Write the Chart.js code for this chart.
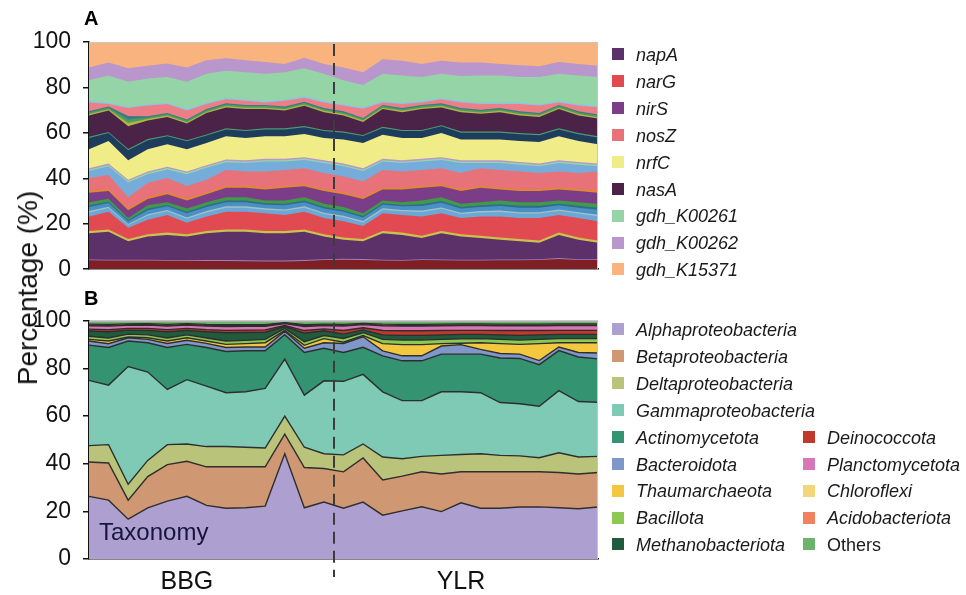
<!DOCTYPE html>
<html><head><meta charset="utf-8">
<script src="https://cdn.jsdelivr.net/npm/chart.js@4.4.1/dist/chart.umd.min.js"></script>
<style>
html,body{margin:0;padding:0;background:#fff}
body{width:966px;height:595px;position:relative;overflow:hidden;font-family:Arial,"Liberation Sans",sans-serif;color:#111}
canvas{position:absolute;left:0}
#ca{top:0}
#cb{top:295px}
.panel{position:absolute;font-weight:bold;font-size:20px;color:#000}
#ytitle{position:absolute;left:28px;top:288px;transform:translate(-50%,-50%) rotate(-90deg);font-size:28px;white-space:nowrap;color:#111}
#tax{position:absolute;left:99px;top:518px;font-size:24px;color:#16163a}
.lg{position:absolute;font-size:18px;font-style:italic;color:#1a1a1a;white-space:nowrap;line-height:20px}
.lg i{display:inline-block;width:12px;height:12px;vertical-align:middle;margin-right:12px;position:relative;top:-2px}
.lg.plain{font-style:normal}
</style>
</head><body>
<canvas id="ca" width="966" height="295"></canvas>
<canvas id="cb" width="966" height="300"></canvas>
<div class="panel" style="left:84px;top:7px">A</div>
<div class="panel" style="left:84px;top:287px">B</div>
<div id="ytitle">Percentage (%)</div>
<div id="tax">Taxonomy</div>
<div id="legA"></div>
<div id="legB"></div>
<script>
// ---------- categories ----------
const samples = ['BBG1','BBG2','BBG3','BBG4','BBG5','BBG6','BBG7','BBG8','BBG9','BBG10','BBG11','BBG12','BBG13',
  'YLR1','YLR2','YLR3','YLR4','YLR5','YLR6','YLR7','YLR8','YLR9','YLR10','YLR11','YLR12','YLR13','YLR14'];
const groupNames = ['BBG','YLR'];
const groupLabelAt = [5, 19];
const bbgCount = 13;
const yTicks = [0, 20, 40, 60, 80, 100];

// ---------- panel A: functional genes (%), bottom to top ----------
const aDarkRed   = [3.9,3.8,3.8,3.8,3.7,3.7,3.6,3.6,3.5,3.4,3.4,3.6,4.0,4.2,4.1,3.8,3.7,4.0,3.9,3.8,3.8,3.9,3.9,4.0,4.5,4.0,4.0];
const aLilac1    = [0.4,0.4,0.4,0.4,0.4,0.4,0.4,0.4,0.4,0.4,0.4,0.4,0.4,0.4,0.4,0.4,0.4,0.4,0.4,0.4,0.4,0.4,0.4,0.4,0.4,0.4,0.4];
const napA       = [11.5,12.3,8.1,10.2,11.0,10.3,11.8,12.5,12.6,12.0,12.0,12.5,10.0,8.4,7.8,11.6,11.0,9.3,11.5,10.2,9.5,8.7,8.0,7.2,10.2,8.6,7.2];
const aOlive1    = [1.0,1.0,1.0,1.0,1.0,1.0,1.0,1.0,1.0,1.0,1.0,1.0,1.0,1.0,1.0,1.0,1.0,1.0,1.0,1.0,1.0,1.0,1.0,1.0,1.0,1.0,1.0];
const narG       = [6.4,7.8,4.9,6.4,7.8,5.0,6.4,7.8,7.8,7.8,7.1,7.8,7.1,7.1,5.7,7.8,7.8,8.5,7.8,7.1,8.5,9.2,9.2,9.9,7.8,8.5,8.5];
const aLightBlue1= [1.8,1.6,1.2,1.8,1.6,1.8,1.8,1.8,1.8,1.6,1.8,1.8,1.8,1.8,1.6,1.6,1.6,2.0,2.0,1.8,1.8,2.0,2.0,2.0,1.8,2.0,2.2];
const aGrey      = [0.6,0.6,0.5,0.6,0.6,0.6,0.6,0.6,0.6,0.6,0.6,0.6,0.6,0.6,0.6,0.6,0.6,0.6,0.6,0.6,0.6,0.6,0.6,0.6,0.6,0.6,0.7];
const aBlue      = [1.8,1.6,1.2,1.8,1.6,1.8,1.8,1.8,1.8,1.6,1.8,1.8,1.8,1.8,1.6,1.6,1.6,2.0,2.0,1.8,1.8,2.0,2.0,2.0,1.8,2.0,2.2];
const aDarkTeal  = [0.7,0.6,0.5,0.7,0.6,0.7,0.7,0.7,0.7,0.6,0.7,0.7,0.7,0.7,0.6,0.6,0.6,0.8,0.8,0.7,0.7,0.8,0.8,0.8,0.7,0.8,0.8];
const aGreen1    = [1.4,1.3,0.9,1.4,1.2,1.4,1.4,1.5,1.5,1.2,1.4,1.5,1.4,1.4,1.2,1.2,1.2,1.6,1.7,1.4,1.4,1.6,1.6,1.6,1.4,1.6,1.8];
const nirS       = [4.2,3.4,3.4,2.8,3.5,3.5,3.5,4.1,4.1,4.9,5.6,4.8,5.6,5.6,6.3,4.9,5.6,5.6,4.8,5.6,6.3,4.9,4.9,4.9,4.9,4.9,4.9];
const aOrange    = [0.8,0.8,0.8,0.8,0.8,0.8,0.8,0.8,0.8,0.8,0.8,0.8,0.8,0.8,0.8,0.8,0.8,0.8,0.8,0.8,0.8,0.8,0.8,0.8,0.8,0.8,0.8];
const nosZ       = [5.6,6.3,5.0,6.3,6.3,5.6,5.6,7.1,6.4,7.1,7.1,7.1,7.1,7.0,7.0,7.8,7.1,7.1,7.1,7.1,7.8,7.8,7.8,7.1,7.1,7.1,8.5];
const aLightBlue2= [3.1,3.8,6.5,3.8,3.8,5.2,5.2,3.4,3.7,4.4,3.7,3.7,4.4,4.5,4.5,3.7,3.7,3.7,3.7,4.4,2.3,3.0,3.0,3.0,3.7,3.7,2.3];
const aMint      = [0.6,0.6,0.6,0.6,0.6,0.6,0.6,0.6,0.6,0.6,0.6,0.6,0.6,0.6,0.6,0.6,0.6,0.6,0.6,0.6,0.6,0.6,0.6,0.6,0.6,0.6,0.6];
const aLilac2    = [0.6,0.6,0.6,0.6,0.6,0.6,0.6,0.6,0.6,0.6,0.6,0.6,0.6,0.6,0.6,0.6,0.6,0.6,0.6,0.6,0.6,0.6,0.6,0.6,0.6,0.6,0.6];
const nrfC       = [8.4,9.9,8.5,9.8,9.9,9.8,9.8,10.2,9.9,9.9,9.9,10.2,9.9,10.6,11.2,10.6,9.9,9.2,10.6,9.2,9.2,9.2,9.2,9.5,10.6,9.2,8.5];
const aNavy      = [5.0,3.5,4.5,4.0,3.5,3.5,3.2,3.0,3.0,3.0,3.0,3.0,3.0,3.0,3.0,3.0,3.0,3.0,3.0,3.0,3.0,3.0,3.0,3.0,3.0,3.0,3.0];
const aTeal1     = [0.5,0.5,0.5,0.5,0.5,0.5,0.5,0.5,0.5,0.5,0.5,0.5,0.5,0.5,0.5,0.5,0.5,0.5,0.5,0.5,0.5,0.5,0.5,0.5,0.5,0.5,0.5];
const nasA       = [9.4,9.4,10.0,8.2,8.0,7.3,9.4,9.2,9.2,8.5,7.8,8.9,7.8,7.1,5.7,7.8,7.8,9.2,7.8,8.5,7.8,8.5,7.8,7.5,8.5,7.8,7.8];
const aOlive2    = [0.6,0.6,1.5,0.6,0.6,0.6,0.6,0.6,0.6,0.6,0.6,0.6,0.6,0.6,0.6,0.6,0.6,0.6,0.6,0.6,0.6,0.6,0.6,0.6,0.6,0.6,0.6];
const aGreen2    = [0.7,0.7,1.5,0.7,0.7,0.7,0.7,0.7,0.7,0.7,0.7,0.7,0.7,0.7,0.7,0.7,0.7,0.7,0.7,0.7,0.7,0.7,0.7,0.7,0.7,0.7,0.7];
const aTeal2     = [0.5,0.5,1.5,0.5,0.5,0.5,0.5,0.5,0.5,0.5,0.5,0.5,0.5,0.5,0.5,0.5,0.5,0.5,0.5,0.5,0.5,0.5,0.5,0.5,0.5,0.5,0.5];
const aPink2     = [3.9,1.1,3.5,4.7,3.9,4.0,2.2,1.8,1.8,1.1,2.5,1.8,2.5,2.5,4.0,1.1,1.8,1.1,1.8,2.5,2.5,1.8,3.2,3.2,1.1,2.5,3.2];
const aSky       = [0.6,0.6,0.6,0.6,0.6,0.6,0.6,0.6,0.6,0.6,0.6,0.6,0.6,0.6,0.6,0.6,0.6,0.6,0.6,0.6,0.6,0.6,0.6,0.6,0.6,0.6,0.6];
const gdhK00261  = [9.2,12.0,11.0,11.3,11.3,12.0,12.7,12.0,12.0,12.0,12.0,12.3,12.0,10.6,9.9,12.0,12.0,10.6,10.6,11.0,12.0,12.0,11.3,12.0,12.0,12.7,12.7];
const gdhK00262  = [5.6,5.7,5.9,5.7,5.9,6.3,6.0,5.4,5.3,5.2,3.6,4.7,4.3,5.6,5.6,6.4,6.4,5.7,5.7,6.0,5.7,5.0,5.2,4.7,5.2,5.0,5.0];
const gdhK15371  = [11.2,9.0,11.6,10.4,9.5,11.2,8.0,7.2,8.0,8.8,9.7,6.9,9.7,11.2,13.3,7.6,8.3,9.7,8.3,9.0,9.0,9.7,10.2,10.7,8.8,9.7,10.4];

// ---------- panel B: taxonomy (%), bottom to top ----------
const alpha   = [26.3,24.7,16.7,21.5,24.3,26.3,22.5,21.3,21.5,22.2,44.2,21.5,23.9,21.3,23.9,18.4,20.2,21.9,19.9,23.6,21.3,21.3,21.8,21.9,21.5,21.1,21.8];
const beta    = [14.4,15.6,8.0,13.1,15.3,14.7,16.2,17.4,17.2,16.5,8.2,16.9,14.1,15.3,18.5,14.8,14.6,14.7,15.8,13.0,15.3,15.3,14.8,14.7,14.8,14.6,14.5];
const delta   = [6.9,7.7,6.7,6.8,8.4,7.3,8.5,8.5,8.2,7.9,7.6,8.5,6.2,7.1,5.9,9.6,7.3,6.5,7.8,7.3,7.6,6.9,6.7,5.9,8.3,7.1,6.8];
const gamma   = [27.4,25.0,49.4,37.1,23.2,27.0,25.4,22.6,23.3,25.0,23.9,21.9,30.6,30.9,29.2,27.4,24.4,23.4,26.7,26.3,25.6,22.2,21.9,21.6,26.1,23.3,22.7];
const actino  = [14.8,15.8,10.7,12.3,17.6,14.8,16.2,17.3,17.2,15.8,10.3,17.9,13.7,12.1,11.4,15.1,16.7,16.7,15.8,15.8,16.2,18.7,19.0,17.5,16.8,18.7,18.2];
const bactero = [1.7,1.6,1.4,1.4,1.7,1.7,1.7,1.7,1.6,1.6,1.4,1.8,2.3,3.8,4.4,2.1,2.1,2.1,3.4,4.0,2.0,1.9,1.8,1.7,1.5,1.9,2.5];
const thaum   = [0.7,1.1,0.3,0.7,1.0,1.1,1.0,1.3,1.4,1.8,0.4,1.2,1.7,0.5,0.5,3.0,4.7,4.7,1.0,0.6,2.8,4.1,4.1,7.1,1.8,4.1,4.3];
const bacil   = [1.3,1.3,1.2,1.2,1.3,1.2,1.3,1.4,1.4,1.4,0.8,1.5,1.3,1.6,1.2,1.8,1.9,1.9,1.8,1.8,1.7,1.8,1.8,1.8,1.7,1.7,1.7];
const methano = [2.2,2.6,1.7,1.9,2.6,1.9,2.6,3.5,3.3,3.0,0.8,3.6,2.0,1.8,1.2,1.9,2.0,2.0,1.9,1.9,1.8,1.9,2.0,1.9,1.8,1.8,1.8];
const deino   = [0.8,0.9,0.7,0.8,0.9,0.8,0.9,1.0,1.0,1.0,0.4,1.1,0.8,1.5,0.9,1.8,1.9,1.9,1.8,1.7,1.7,1.8,2.0,1.8,1.7,1.7,1.7];
const plancto = [1.4,1.5,1.3,1.4,1.5,1.4,1.5,1.6,1.6,1.5,0.8,1.7,1.4,1.9,1.3,2.0,2.0,2.0,2.0,2.0,2.0,2.0,2.0,2.0,2.0,2.0,2.0];
const chloro  = [0.3,0.3,0.3,0.3,0.3,0.3,0.3,0.4,0.3,0.3,0.2,0.4,0.3,0.3,0.2,0.3,0.3,0.3,0.3,0.3,0.3,0.3,0.3,0.3,0.3,0.3,0.3];
const acido   = [0.4,0.4,0.3,0.3,0.4,0.3,0.4,0.4,0.4,0.4,0.2,0.4,0.3,0.4,0.3,0.4,0.4,0.4,0.4,0.4,0.4,0.4,0.4,0.4,0.4,0.4,0.4];
const others  = [1.4,1.5,1.3,1.2,1.5,1.2,1.5,1.6,1.6,1.6,0.8,1.6,1.4,1.5,1.1,1.4,1.5,1.5,1.4,1.3,1.3,1.4,1.4,1.4,1.3,1.3,1.3];

// ---------- series definitions (bottom to top) ----------
const layersA = [
  {name:'', data:aDarkRed, color:'#7d1f24'},
  {name:'', data:aLilac1, color:'#a67fb9'},
  {name:'napA', data:napA, color:'#5c3068'},
  {name:'', data:aOlive1, color:'#c9c24e'},
  {name:'narG', data:narG, color:'#e24a52'},
  {name:'', data:aLightBlue1, color:'#6aa8d8'},
  {name:'', data:aGrey, color:'#a3c2c0'},
  {name:'', data:aBlue, color:'#4a8fc6'},
  {name:'', data:aDarkTeal, color:'#2f6d8c'},
  {name:'', data:aGreen1, color:'#3f9b48'},
  {name:'nirS', data:nirS, color:'#7b3d88'},
  {name:'', data:aOrange, color:'#e08a28'},
  {name:'nosZ', data:nosZ, color:'#e8727a'},
  {name:'', data:aLightBlue2, color:'#76acd9'},
  {name:'', data:aMint, color:'#93d6a4'},
  {name:'', data:aLilac2, color:'#b894d0'},
  {name:'nrfC', data:nrfC, color:'#f0ec88'},
  {name:'', data:aNavy, color:'#1e3d5c'},
  {name:'', data:aTeal1, color:'#4d9b72'},
  {name:'nasA', data:nasA, color:'#4b2348'},
  {name:'', data:aOlive2, color:'#b8b048'},
  {name:'', data:aGreen2, color:'#4aa056'},
  {name:'', data:aTeal2, color:'#3a7a88'},
  {name:'', data:aPink2, color:'#ec7f86'},
  {name:'', data:aSky, color:'#8cc4e6'},
  {name:'gdh_K00261', data:gdhK00261, color:'#95d4a6'},
  {name:'gdh_K00262', data:gdhK00262, color:'#b996cb'},
  {name:'gdh_K15371', data:gdhK15371, color:'#f8b37e'}
];
const layersB = [
  {name:'Alphaproteobacteria', data:alpha, color:'#ae9fd1'},
  {name:'Betaproteobacteria', data:beta, color:'#cf9772'},
  {name:'Deltaproteobacteria', data:delta, color:'#bac37a'},
  {name:'Gammaproteobacteria', data:gamma, color:'#7ecab5'},
  {name:'Actinomycetota', data:actino, color:'#349471'},
  {name:'Bacteroidota', data:bactero, color:'#7f97c9'},
  {name:'Thaumarchaeota', data:thaum, color:'#f4c83e'},
  {name:'Bacillota', data:bacil, color:'#8dc853'},
  {name:'Methanobacteriota', data:methano, color:'#1f5b3c'},
  {name:'Deinococcota', data:deino, color:'#c0392b'},
  {name:'Planctomycetota', data:plancto, color:'#d677b6'},
  {name:'Chloroflexi', data:chloro, color:'#f3d67a'},
  {name:'Acidobacteriota', data:acido, color:'#f08262'},
  {name:'Others', data:others, color:'#6cb46c'}
];

// ---------- helpers ----------
const FONT = 'Arial, "Liberation Sans", sans-serif';
const dividerPlugin = {
  id: 'divider',
  afterDatasetsDraw(chart, args, opts) {
    const {ctx, chartArea, scales} = chart;
    const x = Math.round(scales.x.getPixelForValue(bbgCount - 0.5));
    ctx.save();
    ctx.strokeStyle = '#3c3c3c';
    ctx.lineWidth = 2;
    ctx.setLineDash([12, 7]);
    ctx.beginPath();
    ctx.moveTo(x, chartArea.top + 2);
    ctx.lineTo(x, chartArea.bottom + (opts.extend || 0));
    ctx.stroke();
    ctx.restore();
  }
};
const framePlugin = {
  id: 'frame',
  afterDatasetsDraw(chart) {
    const {ctx, chartArea: a} = chart;
    ctx.save();
    ctx.strokeStyle = '#c6c6c6';
    ctx.lineWidth = 1;
    ctx.beginPath();
    ctx.moveTo(a.left, a.top + 0.5);
    ctx.lineTo(a.right - 0.5, a.top + 0.5);
    ctx.lineTo(a.right - 0.5, a.bottom);
    ctx.stroke();
    ctx.restore();
  }
};

function makeDatasets(layers, outline) {
  return layers.map(l => ({
    label: l.name,
    data: l.data,
    backgroundColor: l.color,
    borderColor: outline ? '#2e2e2e' : l.color,
    borderWidth: outline ? 1.4 : 0,
    fill: 'origin',
    pointRadius: 0,
    pointHoverRadius: 0,
    tension: 0
  }));
}

function yScale() {
  return {
    stacked: true, min: 0, max: 100,
    afterBuildTicks: s => { s.ticks = yTicks.map(v => ({value: v})); },
    afterFit: s => { s.width = 89; },
    ticks: {font: {family: FONT, size: 23}, color: '#111', padding: 12},
    grid: {display: true, drawOnChartArea: false, drawTicks: true, tickLength: 6, color: '#111', lineWidth: 1.5},
    border: {display: true, color: '#111', width: 1.5}
  };
}

Chart.defaults.font.family = FONT;

new Chart(document.getElementById('ca'), {
  type: 'line',
  data: {labels: samples, datasets: makeDatasets(layersA, false)},
  options: {
    responsive: false, animation: false, devicePixelRatio: 1,
    layout: {padding: {left: 0, right: 368, top: 42, bottom: 14}},
    plugins: {legend: {display: false}, tooltip: {enabled: false}, divider: {extend: 0}},
    scales: {
      x: {
        type: 'category', offset: false,
        afterFit: s => { s.height = 2; },
        ticks: {display: false},
        grid: {display: false, drawTicks: false},
        border: {display: true, color: '#111', width: 1.5}
      },
      y: yScale()
    }
  },
  plugins: [framePlugin, dividerPlugin]
});

new Chart(document.getElementById('cb'), {
  type: 'line',
  data: {labels: samples, datasets: makeDatasets(layersB, true)},
  options: {
    responsive: false, animation: false, devicePixelRatio: 1,
    layout: {padding: {left: 0, right: 368, top: 21, bottom: 0}},
    plugins: {legend: {display: false}, tooltip: {enabled: false}, divider: {extend: 18}},
    scales: {
      x: {
        type: 'category', offset: false,
        afterFit: s => { s.height = 36; },
        ticks: {
          autoSkip: false, maxRotation: 0, minRotation: 0, padding: 8,
          font: {family: FONT, size: 25}, color: '#111',
          callback: (v, i) => { const g = groupLabelAt.indexOf(i); return g >= 0 ? groupNames[g] : ''; }
        },
        grid: {display: false, drawTicks: false},
        border: {display: true, color: '#111', width: 1.5}
      },
      y: yScale()
    }
  },
  plugins: [framePlugin, dividerPlugin]
});

// ---------- HTML legends ----------
function addItem(parent, name, color, left, centerY, plain) {
  const d = document.createElement('div');
  d.className = 'lg' + (plain ? ' plain' : '');
  d.style.left = left + 'px';
  d.style.top = (centerY - 10) + 'px';
  const sw = document.createElement('i');
  sw.style.background = color;
  d.appendChild(sw);
  d.appendChild(document.createTextNode(name));
  parent.appendChild(d);
}
const legA = document.getElementById('legA');
layersA.filter(l => l.name).forEach((l, k) => addItem(legA, l.name, l.color, 612, 55 + 26.9 * k, false));
const legB = document.getElementById('legB');
layersB.forEach((l, k) => {
  if (k < 9) addItem(legB, l.name, l.color, 612, 330 + 26.9 * k, l.name === 'Others');
  else addItem(legB, l.name, l.color, 803, 330 + 26.9 * (k - 5), l.name === 'Others');
});
</script>
</body></html>
